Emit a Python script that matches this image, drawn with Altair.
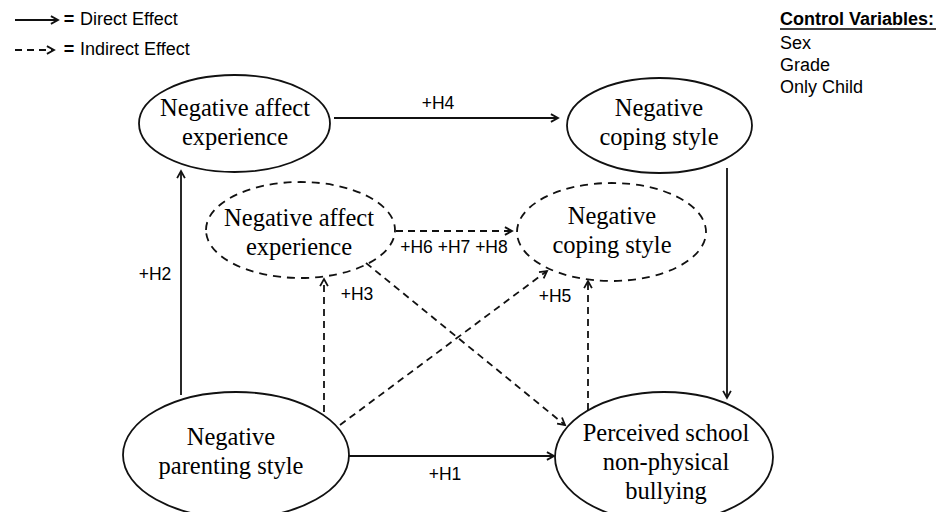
import altair as alt
import pandas as pd
import numpy as np

# ---------------- data ----------------
node_ids = ["nae_total", "ncs_total", "nae_ind", "ncs_ind", "nps", "bully"]
node_text = ["Negative affect\nexperience", "Negative\ncoping style",
             "Negative affect\nexperience", "Negative\ncoping style",
             "Negative\nparenting style", "Perceived school\nnon-physical\nbullying"]
node_kind = ["solid", "solid", "dashed", "dashed", "solid", "solid"]

edge_ids = ["H4", "H2", "CB", "H1", "H678", "H3", "PD", "H5", "AD"]
edge_text = ["+H4", "+H2", "", "+H1", "+H6 +H7 +H8", "+H3", "", "+H5", ""]
edge_kind = ["solid", "solid", "solid", "solid", "dashed", "dashed", "dashed", "dashed", "dashed"]

legend_text = ["Direct Effect", "Indirect Effect"]
legend_kind = ["solid", "dashed"]
control_title = "Control Variables:"
control_items = ["Sex", "Grade", "Only Child"]

# ---------------- layout (pixel positions) ----------------
node_pos = {  # cx, cy, rx, ry, text cx, first-line cy
    "nae_total": (234.5, 123.5, 95.5, 48.5, 235, 109),
    "ncs_total": (659.5, 125.5, 92.5, 47.5, 659, 109),
    "nae_ind": (300.5, 230, 94.5, 48, 299, 219),
    "ncs_ind": (611.5, 232, 94.5, 49, 612, 217),
    "nps": (236, 455, 113, 63, 231, 438),
    "bully": (664, 457, 109, 65, 666, 434),
}
edge_pos = {  # x1, y1, x2(tip), y2(tip), label x, label y
    "H4": (334, 118, 558, 118, 438, 104),
    "H2": (181, 395, 181, 171, 155, 275),
    "CB": (727, 168, 727, 398, 0, 0),
    "H1": (348, 456, 554, 456, 445, 475),
    "H678": (396, 231, 512, 231, 454, 248),
    "H3": (324, 412, 324, 279, 357, 295),
    "PD": (340, 425, 547, 271, 0, 0),
    "H5": (588, 410, 588, 281, 555, 297),
    "AD": (366, 263, 565, 425, 0, 0),
}
legend_pos = {"solid": (15, 58, 20), "dashed": (15, 54, 50)}

# ---------------- tables ----------------
nodes = pd.DataFrame({"id": node_ids, "text": node_text, "kind": node_kind})
nodes["cx"] = [node_pos[i][0] for i in node_ids]
nodes["cy"] = [node_pos[i][1] for i in node_ids]
nodes["tx"] = [node_pos[i][4] for i in node_ids]
nodes["ty"] = [node_pos[i][5] for i in node_ids]
nodes["size"] = [(2 * node_pos[i][2]) ** 2 for i in node_ids]
nodes["shape"] = [
    "M-1,0A1,{r:.4f} 0 1,1 1,0A1,{r:.4f} 0 1,1 -1,0Z".format(r=node_pos[i][3] / node_pos[i][2])
    for i in node_ids
]

edges = pd.DataFrame({"id": edge_ids, "text": edge_text, "kind": edge_kind})
for k, col in enumerate(["x1", "y1", "x2", "y2", "lx", "ly"]):
    edges[col] = [edge_pos[i][k] for i in edge_ids]

leg = pd.DataFrame({"text": legend_text, "kind": legend_kind})
leg["x1"] = [legend_pos[k][0] for k in legend_kind]
leg["x2"] = [legend_pos[k][1] for k in legend_kind]
leg["y1"] = [legend_pos[k][2] for k in legend_kind]
leg["y2"] = leg["y1"]
leg["eqx"] = 69
leg["tx"] = 80

lines = pd.concat([edges[["x1", "y1", "x2", "y2", "kind"]], leg[["x1", "y1", "x2", "y2", "kind"]]],
                  ignore_index=True)
lines["angle"] = (np.degrees(np.arctan2(lines["y2"] - lines["y1"], lines["x2"] - lines["x1"])) % 360).round(2)

ctrl = pd.DataFrame({"text": [control_title] + control_items,
                     "weight": ["bold"] + ["normal"] * len(control_items)})
ctrl["x"] = 780
ctrl["y"] = [20, 44, 66, 88]

# ---------------- chart ----------------
W, H = 928, 504
X = lambda f: alt.X(f, type="quantitative", scale=alt.Scale(domain=[8, 8 + W]), axis=None)
Y = lambda f: alt.Y(f, type="quantitative", scale=alt.Scale(domain=[8 + H, 8]), axis=None)
INK = "#111111"
ARROW = "M-1,-0.55L0,0L-1,0.55"

ell_solid = alt.Chart(nodes).transform_filter("datum.kind == 'solid'").mark_point(
    filled=False, color=INK, strokeWidth=1.8, opacity=1
).encode(x=X("cx"), y=Y("cy"), shape=alt.Shape("shape:N", scale=None),
         size=alt.Size("size:Q", scale=None))
ell_dash = alt.Chart(nodes).transform_filter("datum.kind == 'dashed'").mark_point(
    filled=False, color=INK, strokeWidth=1.8, opacity=1, strokeDash=[8, 6]
).encode(x=X("cx"), y=Y("cy"), shape=alt.Shape("shape:N", scale=None),
         size=alt.Size("size:Q", scale=None))

node_labels = alt.Chart(nodes).mark_text(
    font="Liberation Serif", fontSize=24.5, color="black", lineBreak="\n", lineHeight=29,
    align="center", baseline="middle"
).encode(x=X("tx"), y=Y("ty"), text="text:N")

line_solid = alt.Chart(lines).transform_filter("datum.kind == 'solid'").mark_rule(
    color=INK, strokeWidth=1.8).encode(x=X("x1"), y=Y("y1"), x2="x2:Q", y2="y2:Q")
line_dash = alt.Chart(lines).transform_filter("datum.kind == 'dashed'").mark_rule(
    color=INK, strokeWidth=1.8, strokeDash=[7, 5]).encode(x=X("x1"), y=Y("y1"), x2="x2:Q", y2="y2:Q")
heads = alt.Chart(lines).mark_point(
    shape=ARROW, filled=False, color=INK, strokeWidth=1.8, opacity=1, size=200
).encode(x=X("x2"), y=Y("y2"), angle=alt.Angle("angle:Q", scale=None))

edge_labels = alt.Chart(edges).transform_filter("datum.text != ''").mark_text(
    font="Liberation Sans", fontSize=17.5, color="black", align="center", baseline="middle"
).encode(x=X("lx"), y=Y("ly"), text="text:N")

leg_eq = alt.Chart(leg).mark_text(
    font="Liberation Sans", fontSize=18, fontWeight="bold", color="black",
    align="center", baseline="middle", text="="
).encode(x=X("eqx"), y=Y("y1"))
leg_txt = alt.Chart(leg).mark_text(
    font="Liberation Sans", fontSize=18, color="black", align="left", baseline="middle"
).encode(x=X("tx"), y=Y("y1"), text="text:N")

ctrl_title_txt = alt.Chart(ctrl).transform_filter("datum.weight == 'bold'").mark_text(
    font="Liberation Sans", fontSize=18, fontWeight="bold", color="black", align="left", baseline="middle"
).encode(x=X("x"), y=Y("y"), text="text:N")
ctrl_txt = alt.Chart(ctrl).transform_filter("datum.weight == 'normal'").mark_text(
    font="Liberation Sans", fontSize=18, color="black", align="left", baseline="middle"
).encode(x=X("x"), y=Y("y"), text="text:N")
ctrl_line = alt.Chart(pd.DataFrame({"x1": [780], "x2": [937], "y": [29]})).mark_rule(
    color="black", strokeWidth=1.6).encode(x=X("x1"), x2="x2:Q", y=Y("y"))

chart = alt.layer(
    line_solid, line_dash, heads, ell_solid, ell_dash, node_labels, edge_labels,
    leg_eq, leg_txt, ctrl_title_txt, ctrl_txt, ctrl_line
).properties(width=W, height=H, padding=0, background="white",
             autosize=alt.AutoSizeParams(type="none")
).configure_view(stroke=None)

chart.save("out.html", embed_options={"renderer": "svg", "actions": False})
